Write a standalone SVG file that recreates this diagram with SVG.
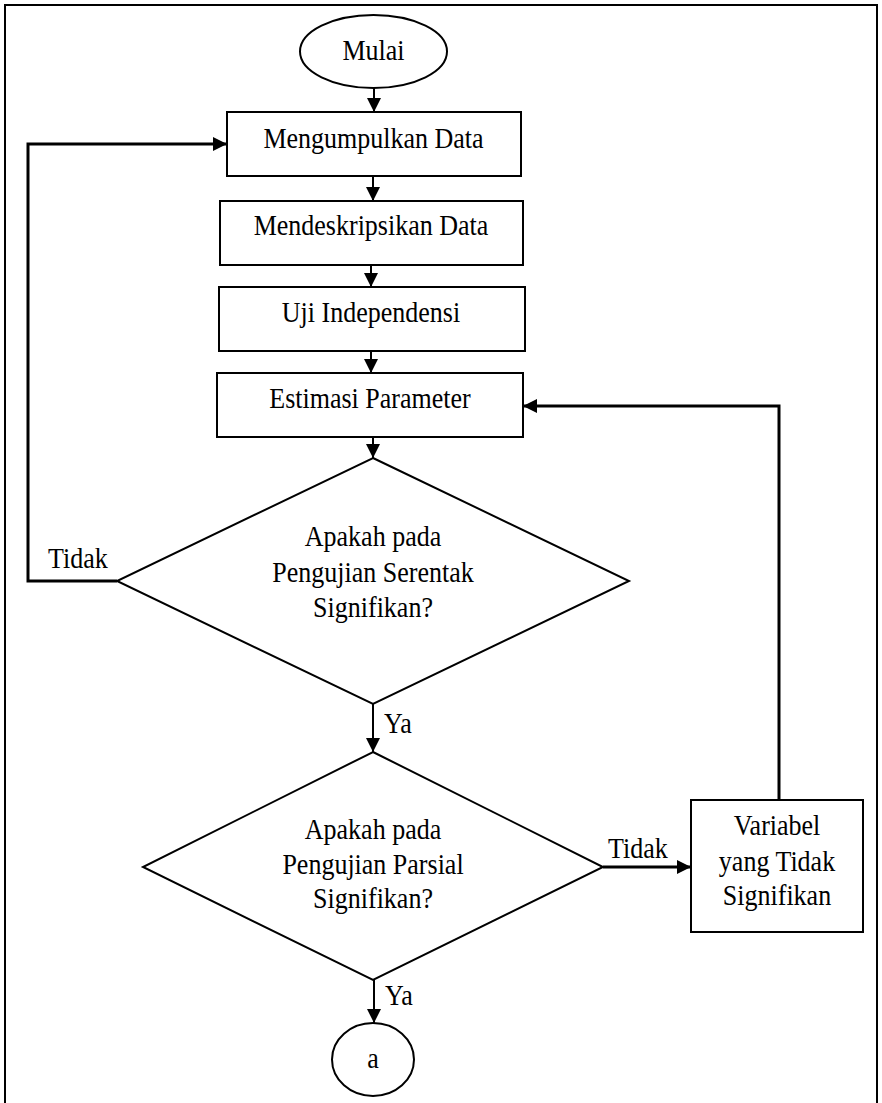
<svg xmlns="http://www.w3.org/2000/svg" width="882" height="1103" viewBox="0 0 882 1103">
<style>
.s{fill:#fff;stroke:#000;stroke-width:2}
.t{font-family:"Liberation Serif","Times New Roman",serif;font-size:26px;fill:#000;text-anchor:middle}
.l{font-family:"Liberation Serif","Times New Roman",serif;font-size:26px;fill:#000}
.c{fill:none;stroke:#000;stroke-width:3}
.c2{fill:none;stroke:#000;stroke-width:2}
</style>
<defs>
<marker id="ah" markerUnits="userSpaceOnUse" markerWidth="16" markerHeight="16" viewBox="0 0 16 16" refX="15" refY="8" orient="auto">
<path d="M1,1 L15,8 L1,15 Z" fill="#000"/>
</marker>
</defs>
<rect x="5" y="5" width="872" height="1110" fill="#fff" stroke="#000" stroke-width="2"/>

<g id="connectors">
<line class="c2" x1="374" y1="88" x2="374" y2="112" marker-end="url(#ah)"/>
<line class="c2" x1="373" y1="176" x2="373" y2="201" marker-end="url(#ah)"/>
<line class="c2" x1="371" y1="265" x2="371" y2="287" marker-end="url(#ah)"/>
<line class="c2" x1="371" y1="351" x2="371" y2="373" marker-end="url(#ah)"/>
<line class="c2" x1="373" y1="437" x2="373" y2="458" marker-end="url(#ah)"/>
<line class="c2" x1="373" y1="704" x2="373" y2="752" marker-end="url(#ah)"/>
<line class="c2" x1="374" y1="980" x2="374" y2="1023" marker-end="url(#ah)"/>
<polyline class="c" points="117,581 28,581 28,144 227,144" marker-end="url(#ah)"/>
<line class="c" x1="603" y1="867" x2="691" y2="867" marker-end="url(#ah)"/>
<polyline class="c" points="779,800 779,406 523,406" marker-end="url(#ah)"/>
<text class="l" transform="translate(48,568) scale(1,1.1)">Tidak</text>
<text class="l" transform="translate(608,858) scale(1,1.1)">Tidak</text>
<text class="l" transform="translate(384,733) scale(1,1.1)">Ya</text>
<text class="l" transform="translate(385,1005) scale(1,1.1)">Ya</text>
</g>

<g id="mulai">
<ellipse class="s" cx="373.5" cy="51.5" rx="73.5" ry="36.5"/>
<text class="t" transform="translate(373.5,60) scale(1,1.1)">Mulai</text>
</g>
<g id="mengumpulkan">
<rect class="s" x="227" y="112" width="294" height="64"/>
<text class="t" transform="translate(373.5,148) scale(1,1.1)">Mengumpulkan Data</text>
</g>
<g id="mendeskripsikan">
<rect class="s" x="220" y="201" width="303" height="64"/>
<text class="t" transform="translate(371,235) scale(1,1.1)">Mendeskripsikan Data</text>
</g>
<g id="uji">
<rect class="s" x="219" y="287" width="306" height="64"/>
<text class="t" transform="translate(371,322) scale(1,1.1)">Uji Independensi</text>
</g>
<g id="estimasi">
<rect class="s" x="217" y="373" width="306" height="64"/>
<text class="t" transform="translate(370,408) scale(1,1.1)">Estimasi Parameter</text>
</g>
<g id="serentak">
<polygon class="s" points="373,458 629,581 373,704 117,581"/>
<text class="t" transform="translate(373,546) scale(1,1.1)">Apakah pada</text>
<text class="t" transform="translate(373,582) scale(1,1.1)">Pengujian Serentak</text>
<text class="t" transform="translate(373,617) scale(1,1.1)">Signifikan?</text>
</g>
<g id="parsial">
<polygon class="s" points="373,752 603,867 373,980 143,867"/>
<text class="t" transform="translate(373,839) scale(1,1.1)">Apakah pada</text>
<text class="t" transform="translate(373,874) scale(1,1.1)">Pengujian Parsial</text>
<text class="t" transform="translate(373,908) scale(1,1.1)">Signifikan?</text>
</g>
<g id="variabel">
<rect class="s" x="691" y="800" width="172" height="132"/>
<text class="t" transform="translate(777,835) scale(1,1.1)">Variabel</text>
<text class="t" transform="translate(777,871) scale(1,1.1)">yang Tidak</text>
<text class="t" transform="translate(777,905) scale(1,1.1)">Signifikan</text>
</g>
<g id="a">
<ellipse class="s" cx="373" cy="1059.5" rx="41" ry="36.5"/>
<text class="t" transform="translate(373,1068) scale(1,1.1)">a</text>
</g>
</svg>
